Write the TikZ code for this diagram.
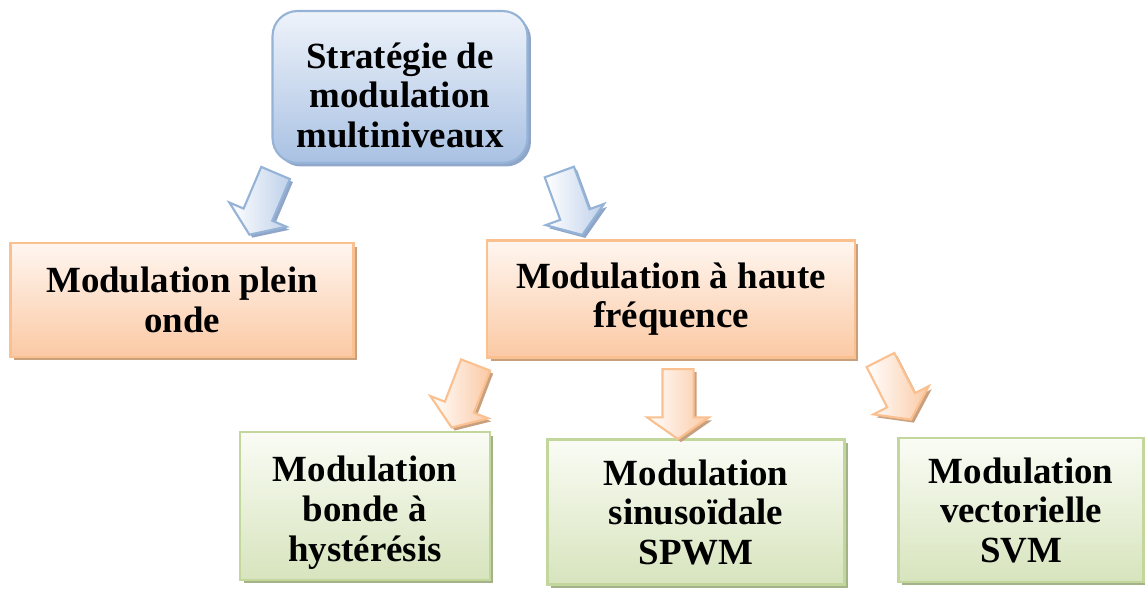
\documentclass[tikz,border=0pt]{standalone}
\usepackage{fontspec}
\setmainfont{Liberation Serif}
\usepackage{tikz}
\usetikzlibrary{shapes.arrows,shadows}
\definecolor{blueline}{HTML}{95B3D7}
\definecolor{bluetop}{HTML}{EEF3FA}
\definecolor{bluebot}{HTML}{A9C1E3}
\definecolor{blueshade}{HTML}{8FA6C8}
\definecolor{orangeline}{HTML}{FAC090}
\definecolor{orangetop}{HTML}{FFF6F0}
\definecolor{orangebot}{HTML}{FBC9A4}
\definecolor{orangeshade}{HTML}{C9A07E}
\definecolor{greenline}{HTML}{C3D69B}
\definecolor{greentop}{HTML}{FAFCF5}
\definecolor{greenbot}{HTML}{D7E4BD}
\definecolor{greenshade}{HTML}{A3B387}

\begin{document}
\begin{tikzpicture}[x=0.02cm, y=-0.02cm,
    every node/.style={font=\bfseries\fontsize{21}{22.5}\selectfont, align=center},
    topbox/.style={draw=blueline, line width=1.2pt, rounded corners=0.5cm, top color=bluetop, bottom color=bluebot,
        drop shadow={shadow xshift=0.07cm, shadow yshift=-0.07cm, fill=blueshade, opacity=1}},
    orangebox/.style={draw=orangeline, line width=1.2pt, top color=orangetop, bottom color=orangebot,
        drop shadow={shadow xshift=0.07cm, shadow yshift=-0.07cm, fill=orangeshade, opacity=1}},
    greenbox/.style={draw=greenline, line width=1.2pt, top color=greentop, bottom color=greenbot,
        drop shadow={shadow xshift=0.07cm, shadow yshift=-0.07cm, fill=greenshade, opacity=1}},
    blockarrow/.style={single arrow, anchor=tail, inner xsep=0pt, inner ysep=0.29cm, single arrow head extend=0.31cm,
        single arrow tip angle=110, minimum height=1.34cm, line width=1.2pt},
    bluearrow/.style={blockarrow, draw=blueline, left color=white, right color=bluebot!75,
        drop shadow={shadow xshift=0.06cm, shadow yshift=-0.06cm, fill=blueshade, opacity=1}},
    orangearrow/.style={blockarrow, draw=orangeline, left color=white, right color=orangebot,
        drop shadow={shadow xshift=0.06cm, shadow yshift=-0.06cm, fill=orangeshade, opacity=1}}]
    \useasboundingbox (0,0) rectangle (1145,589);

    % boxes
    \node[topbox, minimum width=5.1cm, minimum height=3.04cm] (strat) at (400,87) {\rule{0pt}{0.84cm}Stratégie de\\ modulation\\ multiniveaux};
    \node[orangebox, minimum width=6.86cm, minimum height=2.28cm] (plein) at (182,300) {Modulation plein\\ onde};
    \node[orangebox, minimum width=7.36cm, minimum height=2.34cm] (haute) at (671,299) {Modulation à haute\\ fréquence};
    \node[greenbox, minimum width=5.0cm, minimum height=2.96cm] (hyst) at (365,506) {\rule{0pt}{0.78cm}Modulation\\ bonde à\\ hystérésis};
    \node[greenbox, minimum width=5.94cm, minimum height=2.9cm] (spwm) at (696,512) {Modulation\\ sinusoïdale\\ SPWM};
    \node[greenbox, minimum width=4.9cm, minimum height=2.88cm] (svm) at (1021,510) {Modulation\\ vectorielle\\ SVM};

    % arrows
    \node[bluearrow, rotate=-113] (arrplein) at (276,172) {};
    \node[bluearrow, rotate=-70] (arrhaute) at (559,171) {};
    \node[orangearrow, rotate=-111] (arrhyst) at (476,364) {};
    \node[orangearrow, rotate=-90, minimum height=1.4cm] (arrspwm) at (678,368) {};
    \node[orangearrow, rotate=-63] (arrsvm) at (880,359) {};
\end{tikzpicture}
\end{document}
